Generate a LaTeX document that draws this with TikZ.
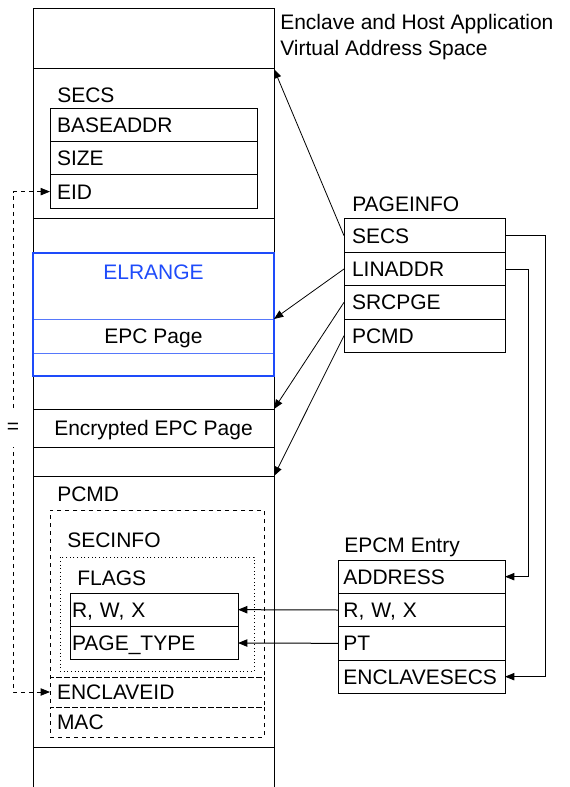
\documentclass[tikz,border=0pt]{standalone}
\usepackage{fontspec}
\setmainfont{Liberation Sans}
\usetikzlibrary{arrows.meta, positioning}
\definecolor{elblue}{RGB}{30,75,250}

\begin{document}
\begin{tikzpicture}[x=0.75pt, y=-0.75pt,
  every node/.style={font=\fontsize{15.75}{19.5}\selectfont},
  cell/.style={draw, line width=0.75pt, anchor=north west, outer sep=0pt, inner sep=0pt,
    minimum width=180.75pt, minimum height=#1, text height=11.3pt, text depth=0pt},
  field/.style={draw, line width=0.75pt, anchor=north west, outer sep=0pt, minimum height=25pt,
    text width=#1, align=left, text height=11.3pt, text depth=0pt},
  dbox/.style={draw, dashed, line width=0.6pt, anchor=north west, outer sep=0pt, minimum height=22.5pt,
    inner xsep=5.25pt, text width=150pt, align=left, text height=11.3pt, text depth=0pt},
  lbl/.style={inner sep=0pt, text height=11.3pt, text depth=0pt},
  link/.style={line width=0.6pt, -{Triangle[length=7pt, width=5.5pt]}}
]
  \useasboundingbox (0,0) rectangle (569,787);

  % address space column
  \node[cell=45pt] (topcell) at (33,9) {};
  \node[cell=112.5pt] (secscell) at (33,69) {};
  \node[cell=25.5pt] (gapa) at (33,219) {};
  \node[cell=24.75pt] (gapb) at (33,376) {};
  \node[cell=28.5pt] (encpage) at (33,409) {Encrypted EPC Page};
  \node[cell=21.75pt] (gapc) at (33,447) {};
  \node[cell=203.25pt] (pcmdcell) at (33,476) {};
  \draw[line width=0.75pt] (pcmdcell.south west) -- ++(0,40);
  \draw[line width=0.75pt] (pcmdcell.south east) -- ++(0,40);

  % ELRANGE
  \node[cell=25.5pt, draw=elblue!75] (epcpage) at (33,319) {EPC Page};
  \node[cell=92.25pt, draw=elblue, line width=1.5pt] (elrange) at (33,253) {};
  \node[lbl, text=elblue] (elrangelbl) at (153.5,272) {ELRANGE};

  \node[anchor=north west, inner sep=0pt, align=left] (vastitle) at (280,14.5)
    {Enclave and Host Application\\Virtual Address Space};

  % SECS
  \node[field=145.3pt, inner xsep=5.25pt] (sBASE) at (50,108.3) {BASEADDR};
  \node[field=145.3pt, inner xsep=5.25pt, below=0pt of sBASE] (sSIZE) {SIZE};
  \node[field=145.3pt, inner xsep=5.25pt, below=0pt of sSIZE] (sEID) {EID};
  \node[lbl, above right=4.35pt and 5.25pt of sBASE.north west] (secslbl) {SECS};

  % PAGEINFO
  \node[field=108.75pt, inner xsep=6pt] (pSECS) at (344,219) {SECS};
  \node[field=108.75pt, inner xsep=6pt, below=0pt of pSECS] (pLIN) {LINADDR};
  \node[field=108.75pt, inner xsep=6pt, below=0pt of pLIN] (pSRC) {SRCPGE};
  \node[field=108.75pt, inner xsep=6pt, below=0pt of pSRC] (pPCMD) {PCMD};
  \node[lbl, above right=5.6pt and 6pt of pSECS.north west] (pinfolbl) {PAGEINFO};

  % PCMD
  \node[dbox, minimum height=125.25pt] (secinfo) at (50,510) {};
  \node[dbox] (cENCL) at (50,677) {ENCLAVEID};
  \node[dbox, below=0pt of cENCL] (cMAC) {MAC};
  \node[lbl, above right=6.4pt and 5.25pt of secinfo.north west] (pcmdlbl) {PCMD};
  \node[draw, dotted, line width=0.75pt, anchor=north west, outer sep=0pt,
    minimum width=145.5pt, minimum height=85.5pt] (flagsbox) at (60,557) {};
  \node[lbl, above right=7.1pt and 5.25pt of flagsbox.north west] (secinfolbl) {SECINFO};
  \node[field=123pt, inner xsep=1.5pt] (fRWX) at (70,593) {R, W, X};
  \node[field=123pt, inner xsep=1.5pt, below=0pt of fRWX] (fPT) {PAGE\_TYPE};
  \node[lbl, above right=5.6pt and 5.25pt of fRWX.north west] (flagslbl) {FLAGS};

  % EPCM entry
  \node[field=117.25pt, inner xsep=4pt] (eADDR) at (338,560) {ADDRESS};
  \node[field=117.25pt, inner xsep=4pt, below=0pt of eADDR] (eRWX) {R, W, X};
  \node[field=117.25pt, inner xsep=4pt, below=0pt of eRWX] (ePT) {PT};
  \node[field=117.25pt, inner xsep=4pt, below=0pt of ePT] (eENCL) {ENCLAVESECS};
  \node[lbl, above right=5.6pt and 4.5pt of eADDR.north west] (epcmlbl) {EPCM Entry};

  % connectors
  \draw[link] (pSECS.west) -- (secscell.north east);
  \draw[link] (pLIN.west) -- (epcpage.north east);
  \draw[link] (pSRC.west) -- (encpage.north east);
  \draw[link] (pPCMD.west) -- (pcmdcell.north east);
  \draw[link] (pSECS.east) -- ++(40,0) |- (eENCL.east);
  \draw[link] (pLIN.east) -- ++(23,0) |- (eADDR.east);
  \draw[link, line width=0.75pt] (eRWX.west) -- (fRWX.east);
  \draw[link, line width=0.75pt] (ePT.west) -- (fPT.east);
  \draw[link, dashed, {Triangle[length=7pt, width=5.5pt]}-{Triangle[length=7pt, width=5.5pt]}]
    (sEID.west) -- ++(-37,0) |- (cENCL.west);
  \node[fill=white, inner xsep=2pt, minimum height=28.5pt] (eqsign) at (13,428) {=};
\end{tikzpicture}
\end{document}
